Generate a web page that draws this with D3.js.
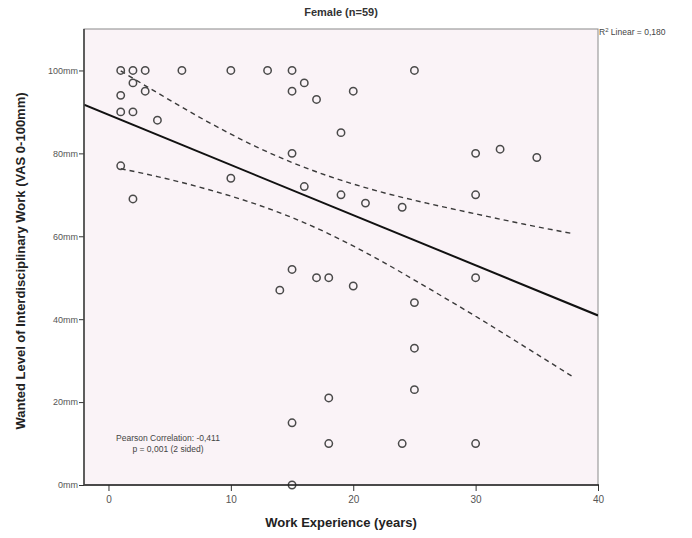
<!DOCTYPE html>
<html><head><meta charset="utf-8">
<script src="https://cdn.jsdelivr.net/npm/d3@7"></script>
<style>body{margin:0;background:#fff;} svg{display:block;font-family:"Liberation Sans",Arial,sans-serif;}</style>
</head><body>
<svg id="c" width="692" height="538"></svg>
<script>
// Data (x = work experience in years, y = wanted level in mm)
const expYears = [1,2,3,6,10,13,15,25, 2,16,1,3,15,17,20, 1,2,4,19, 15,30,32,35, 1,10,16,19,21,24,30,2, 15,14,17,18,20,30, 25,25,25,18,15,18,24,30,15];
const wantedMm = [100,100,100,100,100,100,100,100, 97,97,94,95,95,93,95, 90,90,88,85, 80,80,81,79, 77,74,72,70,68,67,70,69, 52,47,50,50,48,50, 44,33,23,21,15,10,10,10,0];
// Fit line
const fitX = [-2, 40];
const fitY = [91.72, 40.90];
// 95% mean confidence band
const bandX = [1,4,8,12,15,18,22,26,30,34,38];
const bandUpper = [99.9,94.6,87.8,81.7,77.8,74.5,70.9,68.0,65.4,62.9,60.6];
const bandLower = [76.3,74.4,71.4,67.8,64.5,60.6,54.5,47.7,40.7,33.4,26.0];
const xTicks = [0,10,20,30,40];
const yTicks = [0,20,40,60,80,100];
const yTickLabels = ["0mm","20mm","40mm","60mm","80mm","100mm"];

const svg = d3.select("#c");
const L=84, R=598, T=29, B=485;
const x = d3.scaleLinear().domain([-2,40]).range([L,R]);
const y = d3.scaleLinear().domain([0,110]).range([B,T]);

svg.append("rect").attr("x",L).attr("y",T).attr("width",R-L).attr("height",B-T)
  .attr("fill","#faf3f7").attr("stroke","#8a8a8a").attr("stroke-width",1);

svg.append("clipPath").attr("id","pc").append("rect")
  .attr("x",L).attr("y",T).attr("width",R-L).attr("height",B-T);

const curveLine = d3.line().x(d=>x(d[0])).y(d=>y(d[1])).curve(d3.curveMonotoneX);
const g = svg.append("g").attr("clip-path","url(#pc)");
[bandUpper, bandLower].forEach(arr=>{
  g.append("path").datum(bandX.map((v,i)=>[v,arr[i]]))
    .attr("d",curveLine).attr("fill","none").attr("stroke","#3a3a3a")
    .attr("stroke-width",1.4).attr("stroke-dasharray","5,4");
});
g.append("path").datum(fitX.map((v,i)=>[v,fitY[i]]))
  .attr("d",d3.line().x(d=>x(d[0])).y(d=>y(d[1]))).attr("fill","none").attr("stroke","#111")
  .attr("stroke-width",2);

svg.append("g").selectAll("circle").data(expYears.map((v,i)=>[v,wantedMm[i]])).join("circle")
  .attr("cx",d=>x(d[0])).attr("cy",d=>y(d[1])).attr("r",3.7)
  .attr("fill","none").attr("stroke","#4a4a4a").attr("stroke-width",1.5);

// axes
const xa = svg.append("g").attr("transform",`translate(0,${B})`)
  .call(d3.axisBottom(x).tickValues(xTicks).tickSize(6).tickPadding(5).tickFormat(d3.format("d")));
const ya = svg.append("g").attr("transform",`translate(${L},0)`)
  .call(d3.axisLeft(y).tickValues(yTicks).tickSize(5).tickPadding(1).tickFormat((d,i)=>yTickLabels[i]));
[xa,ya].forEach(a=>{
  a.select(".domain").remove();
  a.selectAll("line").attr("stroke","#333");
  a.selectAll("text").attr("fill","#555").attr("font-size",10).attr("font-family","'Liberation Sans',Arial,sans-serif");
});
ya.selectAll("text").attr("font-size",9);
svg.append("line").attr("x1",L).attr("x2",R+1).attr("y1",B).attr("y2",B).attr("stroke","#222").attr("stroke-width",1.6);
svg.append("line").attr("x1",L).attr("x2",L).attr("y1",T).attr("y2",B).attr("stroke","#444").attr("stroke-width",1.6);

// titles
svg.append("text").attr("x",341).attr("y",16).attr("text-anchor","middle")
  .attr("font-size",11).attr("font-weight","bold").attr("fill","#333").text("Female (n=59)");
svg.append("text").attr("x",341).attr("y",527).attr("text-anchor","middle")
  .attr("font-size",13).attr("font-weight","bold").attr("fill","#222").text("Work Experience (years)");
svg.append("text").attr("transform",`translate(25,${(T+B)/2+4}) rotate(-90)`).attr("text-anchor","middle")
  .attr("font-size",13).attr("font-weight","bold").attr("fill","#222")
  .text("Wanted Level of Interdisciplinary Work (VAS 0-100mm)");

const r2 = svg.append("text").attr("x",599).attr("y",35).attr("font-size",8.5).attr("fill","#444");
r2.append("tspan").text("R");
r2.append("tspan").attr("dy",-3).attr("font-size",6).text("2");
r2.append("tspan").attr("dy",3).text(" Linear = 0,180");

svg.append("text").attr("x",168).attr("y",441).attr("text-anchor","middle").attr("font-size",8.5).attr("fill","#444")
  .text("Pearson Correlation: -0,411");
svg.append("text").attr("x",168).attr("y",452).attr("text-anchor","middle").attr("font-size",8.5).attr("fill","#444")
  .text("p = 0,001 (2 sided)");
</script>
</body></html>
